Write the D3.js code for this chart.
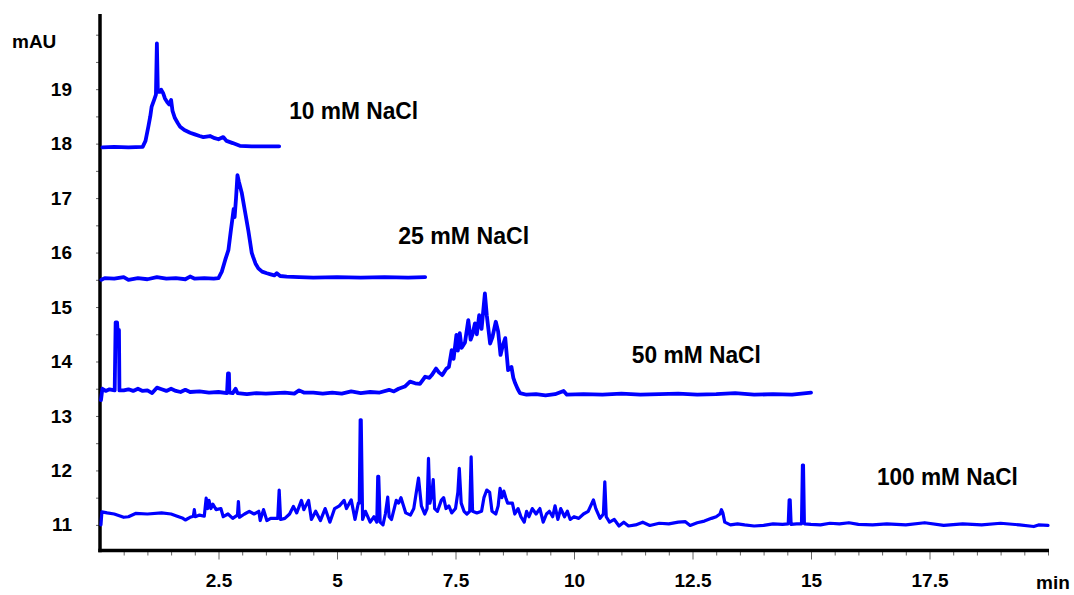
<!DOCTYPE html>
<html>
<head>
<meta charset="utf-8">
<script src="https://cdn.jsdelivr.net/npm/d3@7"></script>
<style>
  body { margin: 0; background: #fff; }
  text { font-family: "Liberation Sans", Arial, sans-serif; font-weight: bold; fill: #000; }
</style>
</head>
<body>
<svg id="chart" width="1074" height="595"></svg>
<script>
// chromatograms: [time (min), absorbance (mAU)]
const trace10 = [
  [0.05,17.93],[0.3,17.94],[0.6,17.93],[0.9,17.94],[0.96,18.05],[1.02,18.31],[1.06,18.5],[1.09,18.68],
  [1.14,18.8],[1.18,18.9],[1.2,19.84],[1.22,18.95],[1.26,18.95],[1.29,18.99],[1.33,18.93],[1.37,18.83],
  [1.42,18.76],[1.46,18.72],[1.5,18.8],[1.53,18.6],[1.58,18.47],[1.64,18.38],[1.69,18.31],[1.78,18.25],
  [1.9,18.2],[2.0,18.17],[2.1,18.14],[2.18,18.12],[2.32,18.14],[2.42,18.1],[2.5,18.08],[2.6,18.12],
  [2.67,18.05],[2.8,18.01],[2.95,17.96],[3.2,17.95],[3.5,17.95],[3.78,17.95]
];

const trace25 = [
  [0.03,15.5],[0.1,15.53],[0.3,15.52],[0.5,15.55],[0.6,15.5],[0.8,15.53],[1.0,15.51],[1.2,15.55],
  [1.4,15.52],[1.6,15.53],[1.8,15.51],[1.9,15.56],[2.0,15.52],[2.2,15.53],[2.4,15.52],[2.5,15.53],
  [2.57,15.65],[2.64,15.86],[2.71,16.05],[2.76,16.4],[2.79,16.6],[2.82,16.8],[2.84,16.65],[2.87,17.0],
  [2.9,17.42],[2.93,17.3],[2.96,17.2],[2.99,17.1],[3.02,16.95],[3.06,16.75],[3.09,16.6],[3.13,16.4],
  [3.16,16.23],[3.2,16.0],[3.23,15.92],[3.28,15.8],[3.34,15.71],[3.42,15.65],[3.52,15.62],[3.6,15.6],
  [3.68,15.58],[3.73,15.62],[3.8,15.57],[3.94,15.56],[4.2,15.55],[4.5,15.54],[5.0,15.55],[5.5,15.54],
  [6.0,15.55],[6.5,15.54],[6.86,15.55]
];

const trace50 = [
  [0.02,13.29],[0.05,13.5],[0.12,13.46],[0.2,13.49],[0.31,13.47],[0.33,14.72],[0.36,14.72],[0.37,14.58],
  [0.4,14.58],[0.41,13.47],[0.5,13.47],[0.6,13.49],[0.7,13.46],[0.8,13.5],[0.9,13.46],[1.0,13.47],
  [1.1,13.42],[1.2,13.52],[1.3,13.49],[1.4,13.46],[1.5,13.5],[1.6,13.46],[1.7,13.44],[1.8,13.48],
  [1.9,13.44],[2.1,13.45],[2.3,13.43],[2.5,13.44],[2.68,13.42],[2.7,13.78],[2.72,13.78],[2.73,13.43],
  [2.8,13.42],[2.86,13.5],[2.9,13.42],[3.1,13.4],[3.3,13.42],[3.5,13.41],[3.7,13.42],[3.9,13.43],
  [4.1,13.41],[4.2,13.47],[4.3,13.43],[4.5,13.43],[4.7,13.41],[4.9,13.43],[5.1,13.41],[5.3,13.45],
  [5.5,13.42],[5.7,13.44],[5.9,13.43],[6.1,13.48],[6.2,13.45],[6.3,13.5],[6.43,13.54],[6.54,13.63],
  [6.65,13.6],[6.75,13.59],[6.86,13.72],[6.95,13.7],[7.0,13.75],[7.09,13.87],[7.15,13.8],[7.22,13.75],
  [7.31,13.87],[7.36,13.9],[7.42,14.21],[7.46,14.05],[7.52,14.49],[7.55,14.2],[7.59,14.52],[7.63,14.25],
  [7.7,14.35],[7.77,14.76],[7.82,14.4],[7.86,14.5],[7.91,14.7],[7.95,14.5],[8.0,14.85],[8.05,14.6],
  [8.12,15.25],[8.16,14.85],[8.23,14.33],[8.28,14.45],[8.35,14.73],[8.4,14.55],[8.45,14.12],[8.5,14.3],
  [8.55,14.43],[8.61,13.84],[8.68,13.9],[8.72,13.7],[8.76,13.6],[8.81,13.5],[8.86,13.42],[9.0,13.39],
  [9.2,13.4],[9.4,13.38],[9.6,13.4],[9.78,13.46],[9.85,13.39],[10.2,13.4],[10.6,13.39],[11.0,13.41],
  [11.4,13.39],[11.8,13.4],[12.2,13.41],[12.6,13.39],[13.0,13.4],[13.4,13.42],[13.8,13.39],[14.2,13.4],
  [14.6,13.39],[15.0,13.43]
];

const trace100 = [
  [0.02,11.0],[0.04,11.24],[0.15,11.22],[0.3,11.2],[0.5,11.14],[0.6,11.15],[0.75,11.21],[1.0,11.2],
  [1.3,11.22],[1.5,11.2],[1.6,11.17],[1.75,11.12],[1.8,11.09],[1.9,11.14],[1.97,11.16],[1.99,11.28],
  [2.01,11.15],[2.1,11.18],[2.2,11.16],[2.24,11.49],[2.27,11.3],[2.3,11.45],[2.34,11.3],[2.38,11.38],
  [2.45,11.28],[2.55,11.3],[2.6,11.15],[2.7,11.2],[2.8,11.12],[2.9,11.18],[2.92,11.43],[2.94,11.14],
  [3.05,11.2],[3.15,11.25],[3.25,11.2],[3.35,11.25],[3.38,11.08],[3.45,11.28],[3.52,11.08],[3.6,11.12],
  [3.75,11.12],[3.78,11.64],[3.81,11.1],[3.9,11.12],[4.0,11.2],[4.08,11.34],[4.15,11.22],[4.25,11.45],
  [4.3,11.28],[4.4,11.45],[4.46,11.1],[4.55,11.25],[4.65,11.08],[4.75,11.3],[4.85,11.05],[4.95,11.3],
  [5.05,11.35],[5.15,11.45],[5.2,11.3],[5.3,11.46],[5.38,11.1],[5.45,11.4],[5.47,11.4],[5.49,12.93],
  [5.51,12.93],[5.54,11.1],[5.6,11.25],[5.7,11.05],[5.78,11.15],[5.84,11.05],[5.86,11.89],[5.88,11.89],
  [5.91,11.05],[5.97,11.0],[6.02,11.2],[6.07,11.51],[6.1,11.15],[6.15,11.1],[6.25,11.45],[6.3,11.4],
  [6.35,11.5],[6.45,11.22],[6.55,11.18],[6.62,11.3],[6.72,11.86],[6.78,11.35],[6.85,11.2],[6.9,11.3],
  [6.93,12.22],[6.96,11.4],[7.0,11.55],[7.03,11.83],[7.06,11.3],[7.12,11.25],[7.2,11.45],[7.25,11.5],
  [7.3,11.3],[7.36,11.35],[7.42,11.22],[7.5,11.3],[7.55,11.6],[7.58,12.04],[7.62,11.4],[7.68,11.25],
  [7.74,11.2],[7.8,11.25],[7.83,12.25],[7.86,11.25],[7.95,11.22],[8.05,11.25],[8.1,11.5],[8.16,11.64],
  [8.22,11.6],[8.27,11.25],[8.35,11.2],[8.4,11.35],[8.44,11.67],[8.48,11.5],[8.52,11.62],[8.56,11.5],
  [8.6,11.4],[8.7,11.4],[8.75,11.2],[8.82,11.3],[8.88,11.15],[8.95,11.05],[9.0,11.25],[9.05,11.15],
  [9.12,11.3],[9.2,11.2],[9.28,11.3],[9.35,11.05],[9.42,11.2],[9.48,11.25],[9.55,11.15],[9.6,11.35],
  [9.66,11.1],[9.72,11.3],[9.8,11.15],[9.86,11.25],[9.92,11.1],[10.0,11.15],[10.1,11.12],[10.2,11.2],
  [10.3,11.25],[10.41,11.46],[10.46,11.3],[10.55,11.12],[10.62,11.2],[10.65,11.79],[10.68,11.15],
  [10.75,11.05],[10.85,11.1],[10.95,10.98],[11.05,11.05],[11.15,10.98],[11.3,11.0],[11.45,11.05],
  [11.6,10.99],[11.8,11.03],[12.0,11.02],[12.2,11.05],[12.35,11.06],[12.45,10.99],[12.6,11.04],
  [12.75,11.07],[12.9,11.12],[13.0,11.15],[13.08,11.2],[13.11,11.28],[13.14,11.22],[13.18,11.05],
  [13.3,11.0],[13.45,11.02],[13.6,11.0],[13.8,10.98],[14.0,10.99],[14.2,11.02],[14.4,11.01],[14.52,11.02],
  [14.54,11.46],[14.56,11.46],[14.58,11.01],[14.7,11.02],[14.8,11.02],[14.82,12.1],[14.84,12.1],
  [14.86,11.02],[15.0,11.01],[15.2,11.0],[15.4,11.03],[15.6,11.02],[15.8,11.04],[16.0,11.01],[16.3,11.0],
  [16.6,11.02],[17.0,11.0],[17.4,11.04],[17.8,10.99],[18.2,11.02],[18.6,11.0],[19.0,11.03],[19.4,11.0],
  [19.7,10.97],[19.8,11.0],[20.0,10.99]
];

const traceNames = ["10 mM NaCl", "25 mM NaCl", "50 mM NaCl", "100 mM NaCl"];
// label anchors in data units [time, mAU]
const labelAnchors = [[3.99, 18.45], [6.29, 16.16], [11.22, 13.97], [16.39, 11.73]];

const yTickLabels = [11, 12, 13, 14, 15, 16, 17, 18, 19];
const xTickLabels = [2.5, 5, 7.5, 10, 12.5, 15, 17.5];

const svg = d3.select("#chart");

const x = d3.scaleLinear().domain([0, 20]).range([100, 1048]);
const y = d3.scaleLinear().domain([10.53, 20.38]).range([550.5, 14]);

// y axis ticks (every 0.5, labels on integers)
const yTicks = d3.range(11, 20.01, 0.5);
const yAxis = d3.axisLeft(y)
  .tickValues(yTicks)
  .tickSize(4)
  .tickPadding(24)
  .tickFormat(d => yTickLabels.includes(d) ? d : "");

const gy = svg.append("g").attr("transform", "translate(100,0)").call(yAxis);
gy.select(".domain").remove();
gy.selectAll("line").attr("stroke", "#666");
gy.selectAll("text").style("font-size", "19px").attr("fill", "#000");

// x axis: minor ticks every 0.5, longer labelled ticks at 2.5 steps
const xMinor = d3.range(0.5, 20.01, 0.5).filter(d => !xTickLabels.includes(d));
const gxMinor = svg.append("g").attr("transform", "translate(0,550.5)")
  .call(d3.axisBottom(x).tickValues(xMinor).tickSize(5).tickFormat(""));
gxMinor.select(".domain").remove();
gxMinor.selectAll("line").attr("stroke", "#666");

const gx = svg.append("g").attr("transform", "translate(0,550.5)")
  .call(d3.axisBottom(x).tickValues(xTickLabels).tickSize(9).tickPadding(14).tickFormat(d => d));
gx.select(".domain").remove();
gx.selectAll("line").attr("stroke", "#666");
gx.selectAll("text").style("font-size", "19px").attr("fill", "#000");

// heavy axis lines
svg.append("line")
  .attr("x1", 100).attr("x2", 100).attr("y1", 14).attr("y2", 552.3)
  .attr("stroke", "#000").attr("stroke-width", 3.5);
svg.append("line")
  .attr("x1", 98.3).attr("x2", 1049).attr("y1", 550.5).attr("y2", 550.5)
  .attr("stroke", "#000").attr("stroke-width", 3.5);

svg.append("text").attr("x", 12).attr("y", 48).style("font-size", "19px").text("mAU");
svg.append("text").attr("x", 1036).attr("y", 589).style("font-size", "19px").text("min");

// traces
const line = d3.line().x(d => x(d[0])).y(d => y(d[1]));
[trace10, trace25, trace50, trace100].forEach((tr, i) => {
  svg.append("path")
    .datum(tr)
    .attr("fill", "none")
    .attr("stroke", "#0000ff")
    .attr("stroke-width", i === 3 ? 3.2 : 3.8)
    .attr("stroke-linejoin", "round")
    .attr("stroke-linecap", "round")
    .attr("d", line);
});

// trace labels
const labelWidths = [129, 131, 129, 141];
traceNames.forEach((name, i) => {
  svg.append("text")
    .attr("x", x(labelAnchors[i][0]))
    .attr("y", y(labelAnchors[i][1]))
    .attr("textLength", labelWidths[i])
    .attr("lengthAdjust", "spacingAndGlyphs")
    .style("font-size", "24px")
    .text(name);
});
</script>
</body>
</html>
